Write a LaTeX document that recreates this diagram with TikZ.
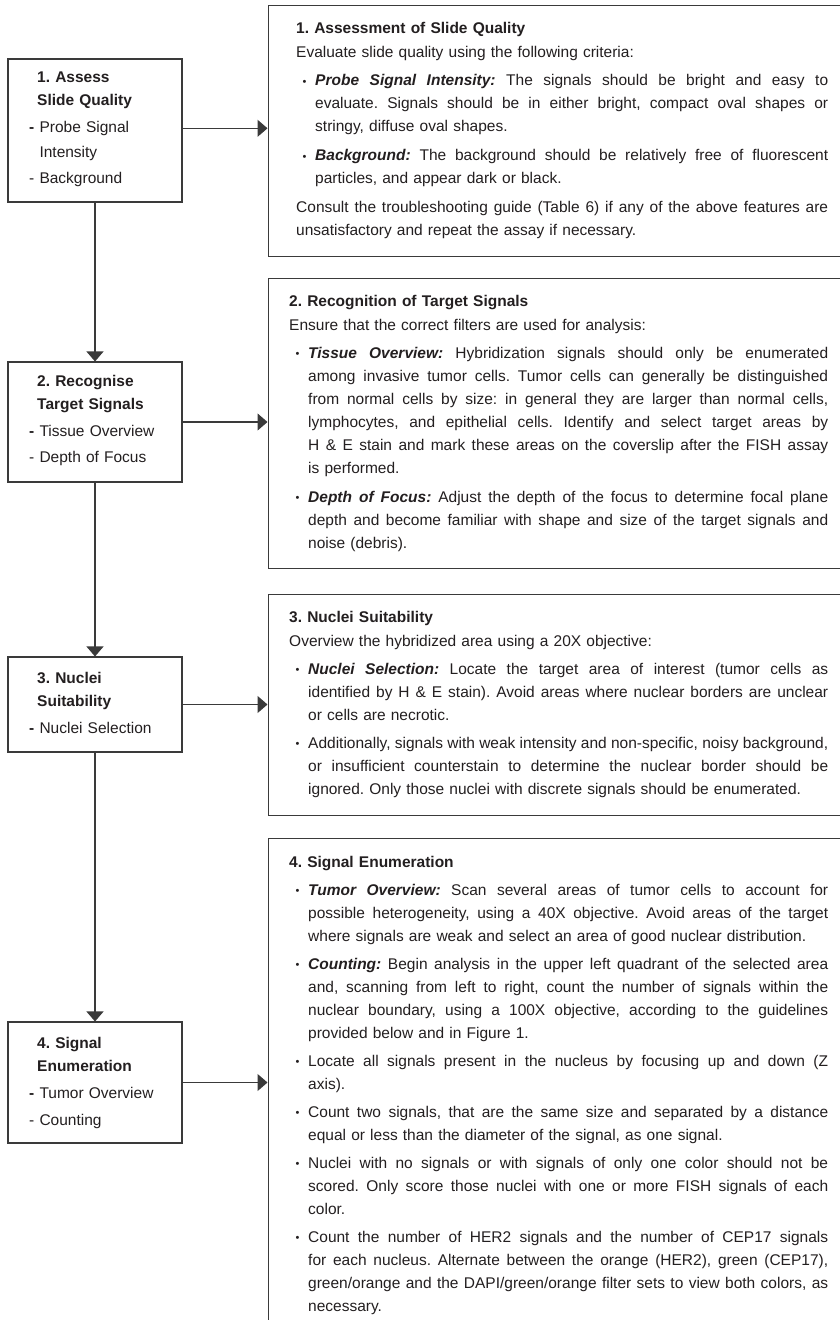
\documentclass[tikz,border=0pt]{standalone}
\usepackage{fontspec}
\setmainfont{Liberation Sans}
\usetikzlibrary{arrows.meta}
\definecolor{ink}{HTML}{231F20}
\definecolor{linec}{HTML}{3A3A3A}
\newlength\CW
\newlength\BI \setlength\BI{19pt}
\newcommand\rfont{\fontsize{15.5pt}{23pt}\selectfont\frenchspacing}
\newcommand\lfont{\fontsize{15.5pt}{23.5pt}\selectfont\frenchspacing}
\newcommand\xbul{\raisebox{0.5pt}{\fontsize{11pt}{11pt}\selectfont\textbullet}}
\newcommand\xkw[1]{\textbf{\textit{#1}}}
\newcommand\xjust[2]{\hbox to #1{\spaceskip=4.3pt plus 1fil minus 1.8pt\relax\xspaceskip=\spaceskip #2}}
\newcommand\xHD[1]{\noindent\strut\textbf{#1}\par}
\newcommand\xPL[1]{\noindent#1\par}
\newcommand\xPJ[1]{\noindent\xjust{\CW}{#1}\par}
\newcommand\xBJ[1]{\noindent\hbox to \BI{\hspace{6.5pt}\xbul\hss}\xjust{\dimexpr\CW-\BI\relax}{#1}\par}
\newcommand\xIJ[1]{\noindent\hspace*{\BI}\xjust{\dimexpr\CW-\BI\relax}{#1}\par}
\newcommand\xIL[1]{\noindent\hspace*{\BI}#1\par}
\newcommand\xGAP{\vspace{5pt}}
\newcommand\xLH[1]{\noindent\hspace*{8pt}\textbf{#1}\par}
\newcommand\xLHs[1]{\noindent\strut\hspace*{8pt}\textbf{#1}\par}
\newcommand\xLIb[1]{\noindent\textbf{-} #1\par}
\newcommand\xLIn[1]{\noindent- #1\par}
\newcommand\xLC[1]{\noindent\hphantom{\textbf{-} }#1\par}
\begin{document}
\begin{tikzpicture}[x=1pt,y=-1pt,
  frame/.style={draw=linec, line width=1.1pt},
  lbox/.style={frame, minimum width=174pt, minimum height=#1, inner sep=0pt},
  rbox/.style={frame, anchor=north west, minimum width=620pt, minimum height=#1, inner sep=0pt},
  rtext/.style={anchor=north west, inner sep=0pt, text width=545pt, font=\rfont, text=ink},
  ltext/.style={anchor=north west, inner sep=0pt, text width=150pt, font=\lfont, text=ink},
  arr/.style={draw=linec, line width=1.1pt, -{Triangle[length=10pt,width=17pt]}}
]
\clip (0,0) rectangle (840,1320);
\fill[white] (0,0) rectangle (840,1320);

% left step boxes
\node[lbox=143pt] (lb1) at (95,130.5) {};
\node[lbox=120pt] (lb2) at (95,422) {};
\node[lbox=95pt]  (lb3) at (95,704.5) {};
\node[lbox=121pt] (lb4) at (95,1082.5) {};

% right description frames
\node[rbox=251pt] (rb1) at (267.5,5) {};
\node[rbox=290.5pt] (rb2) at (267.5,277.5) {};
\node[rbox=221pt] (rb3) at (267.5,594) {};
\node[rbox=600pt] (rb4) at (267.5,838) {};

% left texts
\node[ltext] (lt1) at (29,65.55) {%
\xLHs{1. Assess}
\xLH{Slide Quality}\vspace{3pt}
\xLIb{Probe Signal}\vspace{1.5pt}
\xLC{Intensity}\vspace{2.5pt}
\xLIn{Background}};
\node[ltext] (lt2) at (29,369.55) {%
\xLHs{2. Recognise}
\xLH{Target Signals}\vspace{3pt}
\xLIb{Tissue Overview}\vspace{3pt}
\xLIn{Depth of Focus}};
\node[ltext] (lt3) at (29,666.55) {%
\xLHs{3. Nuclei}
\xLH{Suitability}\vspace{3.5pt}
\xLIb{Nuclei Selection}};
\node[ltext] (lt4) at (29,1031.55) {%
\xLHs{4. Signal}
\xLH{Enumeration}\vspace{3pt}
\xLIb{Tumor Overview}\vspace{3.5pt}
\xLIn{Counting}};

% right texts
\node[rtext] (rt1) at (296,17.4) {\setlength\CW{532pt}%
\xHD{1. Assessment of Slide Quality}\vspace{1pt}
\xPL{Evaluate slide quality using the following criteria:}\xGAP
\xBJ{\xkw{Probe Signal Intensity:} The signals should be bright and easy to}
\xIJ{evaluate. Signals should be in either bright, compact oval shapes or}
\xIL{stringy, diffuse oval shapes.}\vspace{6pt}
\xBJ{\xkw{Background:} The background should be relatively free of fluorescent}
\xIL{particles, and appear dark or black.}\vspace{6pt}
\xPJ{Consult the troubleshooting guide (Table 6) if any of the above features are}
\xPL{unsatisfactory and repeat the assay if necessary.}};

\node[rtext] (rt2) at (289,289.9) {\setlength\CW{539pt}%
\xHD{2. Recognition of Target Signals}\vspace{1pt}
\xPL{Ensure that the correct filters are used for analysis:}\xGAP
\xBJ{\xkw{Tissue Overview:} Hybridization signals should only be enumerated}
\xIJ{among invasive tumor cells. Tumor cells can generally be distinguished}
\xIJ{from normal cells by size: in general they are larger than normal cells,}
\xIJ{lymphocytes, and epithelial cells. Identify and select target areas by}
\xIJ{H \& E stain and mark these areas on the coverslip after the FISH assay}
\xIL{is performed.}\vspace{6pt}
\xBJ{\xkw{Depth of Focus:} Adjust the depth of the focus to determine focal plane}
\xIJ{depth and become familiar with shape and size of the target signals and}
\xIL{noise (debris).}};

\node[rtext] (rt3) at (289,605.9) {\setlength\CW{539pt}%
\xHD{3. Nuclei Suitability}\vspace{1pt}
\xPL{Overview the hybridized area using a 20X objective:}\xGAP
\xBJ{\xkw{Nuclei Selection:} Locate the target area of interest (tumor cells as}
\xIJ{identified by H \& E stain). Avoid areas where nuclear borders are unclear}
\xIL{or cells are necrotic.}\xGAP
\xBJ{Additionally, signals with weak intensity and non-specific, noisy background,}
\xIJ{or insufficient counterstain to determine the nuclear border should be}
\xIL{ignored. Only those nuclei with discrete signals should be enumerated.}};

\node[rtext] (rt4) at (289,850.9) {\setlength\CW{539pt}%
\xHD{4. Signal Enumeration}\xGAP
\xBJ{\xkw{Tumor Overview:} Scan several areas of tumor cells to account for}
\xIJ{possible heterogeneity, using a 40X objective. Avoid areas of the target}
\xIL{where signals are weak and select an area of good nuclear distribution.}\xGAP
\xBJ{\xkw{Counting:} Begin analysis in the upper left quadrant of the selected area}
\xIJ{and, scanning from left to right, count the number of signals within the}
\xIJ{nuclear boundary, using a 100X objective, according to the guidelines}
\xIL{provided below and in Figure 1.}\xGAP
\xBJ{Locate all signals present in the nucleus by focusing up and down (Z}
\xIL{axis).}\xGAP
\xBJ{Count two signals, that are the same size and separated by a distance}
\xIL{equal or less than the diameter of the signal, as one signal.}\xGAP
\xBJ{Nuclei with no signals or with signals of only one color should not be}
\xIJ{scored. Only score those nuclei with one or more FISH signals of each}
\xIL{color.}\xGAP
\xBJ{Count the number of HER2 signals and the number of CEP17 signals}
\xIJ{for each nucleus. Alternate between the orange (HER2), green (CEP17),}
\xIJ{green/orange and the DAPI/green/orange filter sets to view both colors, as}
\xIL{necessary.}};

% connectors
\draw[arr] (lb1.south) -- (lb2.north);
\draw[arr] (lb2.south) -- (lb3.north);
\draw[arr] (lb3.south) -- (lb4.north);
\draw[arr] ([yshift=2.2pt]lb1.east) -- ([yshift=2.2pt]lb1.east -| rb1.west);
\draw[arr] (lb2.east) -- (lb2.east -| rb2.west);
\draw[arr] (lb3.east) -- (lb3.east -| rb3.west);
\draw[arr] (lb4.east) -- (lb4.east -| rb4.west);
\end{tikzpicture}
\end{document}
